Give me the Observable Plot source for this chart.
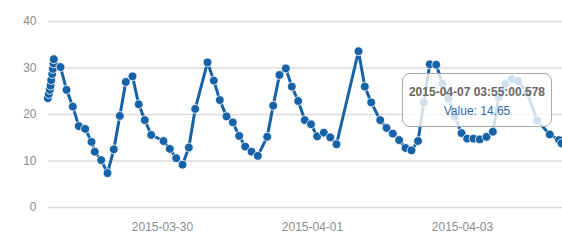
<!DOCTYPE html>
<html><head><meta charset="utf-8">
<script src="https://cdn.jsdelivr.net/npm/d3@7"></script>
<script src="https://cdn.jsdelivr.net/npm/@observablehq/plot@0.6"></script>
<style>
body{margin:0;background:#fff;font-family:"Liberation Sans",Arial,sans-serif;}
#wrap{position:relative;width:562px;height:252px;overflow:hidden;}
#wrap svg{display:block;}
.tip{position:absolute;left:402px;top:73px;width:150px;height:54px;box-sizing:border-box;border:1px solid #aaa;border-radius:8px;background:rgba(255,255,255,0.8);text-align:center;font-size:12px;}
.tip .t1{position:absolute;left:0;right:0;top:11px;font-weight:bold;color:#666;line-height:14px;}
.tip .t2{position:absolute;left:0;right:0;top:30px;color:#2a6aab;line-height:14px;}
</style></head><body>
<div id="wrap"></div>
<script>
const times = [
"2015-03-28T11:18","2015-03-28T11:37","2015-03-28T11:56","2015-03-28T12:10","2015-03-28T12:23",
"2015-03-28T12:42","2015-03-28T12:54","2015-03-28T13:07","2015-03-28T13:13",
"2015-03-28T15:22","2015-03-28T17:17","2015-03-28T19:18","2015-03-28T21:13","2015-03-28T23:16",
"2015-03-29T01:17","2015-03-29T02:20","2015-03-29T04:23","2015-03-29T06:24","2015-03-29T08:25",
"2015-03-29T10:20","2015-03-29T12:16","2015-03-29T14:24","2015-03-29T16:23","2015-03-29T18:20",
"2015-03-29T20:23",
"2015-03-30T00:19","2015-03-30T02:20","2015-03-30T04:23","2015-03-30T06:24","2015-03-30T08:25",
"2015-03-30T10:28","2015-03-30T14:24","2015-03-30T16:25","2015-03-30T18:20","2015-03-30T20:29",
"2015-03-30T22:30",
"2015-03-31T00:32","2015-03-31T02:28","2015-03-31T04:29","2015-03-31T06:30","2015-03-31T09:30",
"2015-03-31T11:25","2015-03-31T13:26","2015-03-31T15:28","2015-03-31T17:23","2015-03-31T19:25",
"2015-03-31T21:32","2015-03-31T23:31",
"2015-04-01T01:30","2015-04-01T03:37","2015-04-01T05:40","2015-04-01T07:41","2015-04-01T14:43",
"2015-04-01T16:44","2015-04-01T18:47","2015-04-01T21:40","2015-04-01T23:41",
"2015-04-02T01:42","2015-04-02T03:44","2015-04-02T05:46","2015-04-02T07:41","2015-04-02T09:46",
"2015-04-02T11:37","2015-04-02T13:32","2015-04-02T15:35","2015-04-02T17:36","2015-04-02T19:31",
"2015-04-02T21:36","2015-04-02T23:41",
"2015-04-03T01:30","2015-04-03T03:31","2015-04-03T05:32","2015-04-03T07:41","2015-04-03T09:42",
"2015-04-03T11:37","2015-04-03T13:46","2015-04-03T15:47","2015-04-03T17:49","2015-04-03T20:42",
"2015-04-03T23:54",
"2015-04-04T03:56","2015-04-04T06:53","2015-04-04T07:41"
];
const values = [
23.5,24.4,25.3,26.2,27.4,28.7,29.8,31.0,31.9,
30.2,25.3,21.7,17.5,16.9,14.1,12.0,10.2,7.4,12.5,19.7,27.0,28.2,22.2,18.8,15.6,
14.3,12.6,10.6,9.2,12.9,21.2,31.2,27.3,23.1,19.6,18.3,
15.4,13.1,12.0,11.1,15.2,21.9,28.5,29.9,26.0,22.9,18.8,17.9,
15.3,16.1,15.1,13.6,33.6,26.0,22.6,18.8,17.1,
15.9,14.5,12.8,12.3,14.3,22.6,30.8,30.7,26.6,23.4,19.5,16.0,
14.8,14.8,14.65,15.2,16.3,23.7,26.6,27.6,27.2,24.7,18.7,
15.7,14.5,13.8
];
const yTicks = [0,10,20,30,40];
const xTicks = ["2015-03-30","2015-04-01","2015-04-03"];
const xDomain = ["2015-03-28T11:31","2015-04-04T08:00"];
const tooltipTime = "2015-04-07 03:55:00.578";
const tooltipValue = "14.65";

const data = times.map((t,i)=>({date:new Date(t+"Z"), value:values[i]}));
const blue = "#1662a6";
const chart = Plot.plot({
  width:562, height:252, marginLeft:48, marginRight:0, marginTop:21, marginBottom:45,
  style:{fontFamily:"'Liberation Sans', Arial, sans-serif", fontSize:"12px", color:"#8c8c8c", background:"transparent", overflow:"visible"},
  x:{type:"utc", domain:xDomain.map(d=>new Date(d+"Z"))},
  y:{domain:[0,40]},
  marks:[
    Plot.ruleY(yTicks,{stroke:"#dcdcdc", strokeWidth:1.5}),
    Plot.axisY({ticks:yTicks, tickSize:0, tickPadding:12, label:null}),
    Plot.axisX({ticks:xTicks.map(d=>new Date(d+"T00:00Z")), tickSize:0, tickPadding:15, tickFormat:d3.utcFormat("%Y-%m-%d"), label:null}),
    Plot.line(data,{x:"date",y:"value",stroke:blue,strokeWidth:3}),
    Plot.dot(data,{x:"date",y:"value",r:4.4,fill:blue,stroke:"#fff",strokeWidth:0.8})
  ]
});
const wrap = document.getElementById("wrap");
wrap.appendChild(chart);
const tip = document.createElement("div");
tip.className = "tip";
const t1 = document.createElement("div"); t1.className="t1"; t1.textContent = tooltipTime;
const t2 = document.createElement("div"); t2.className="t2"; t2.textContent = "Value: " + tooltipValue;
tip.appendChild(t1); tip.appendChild(t2);
wrap.appendChild(tip);
</script>
</body></html>
